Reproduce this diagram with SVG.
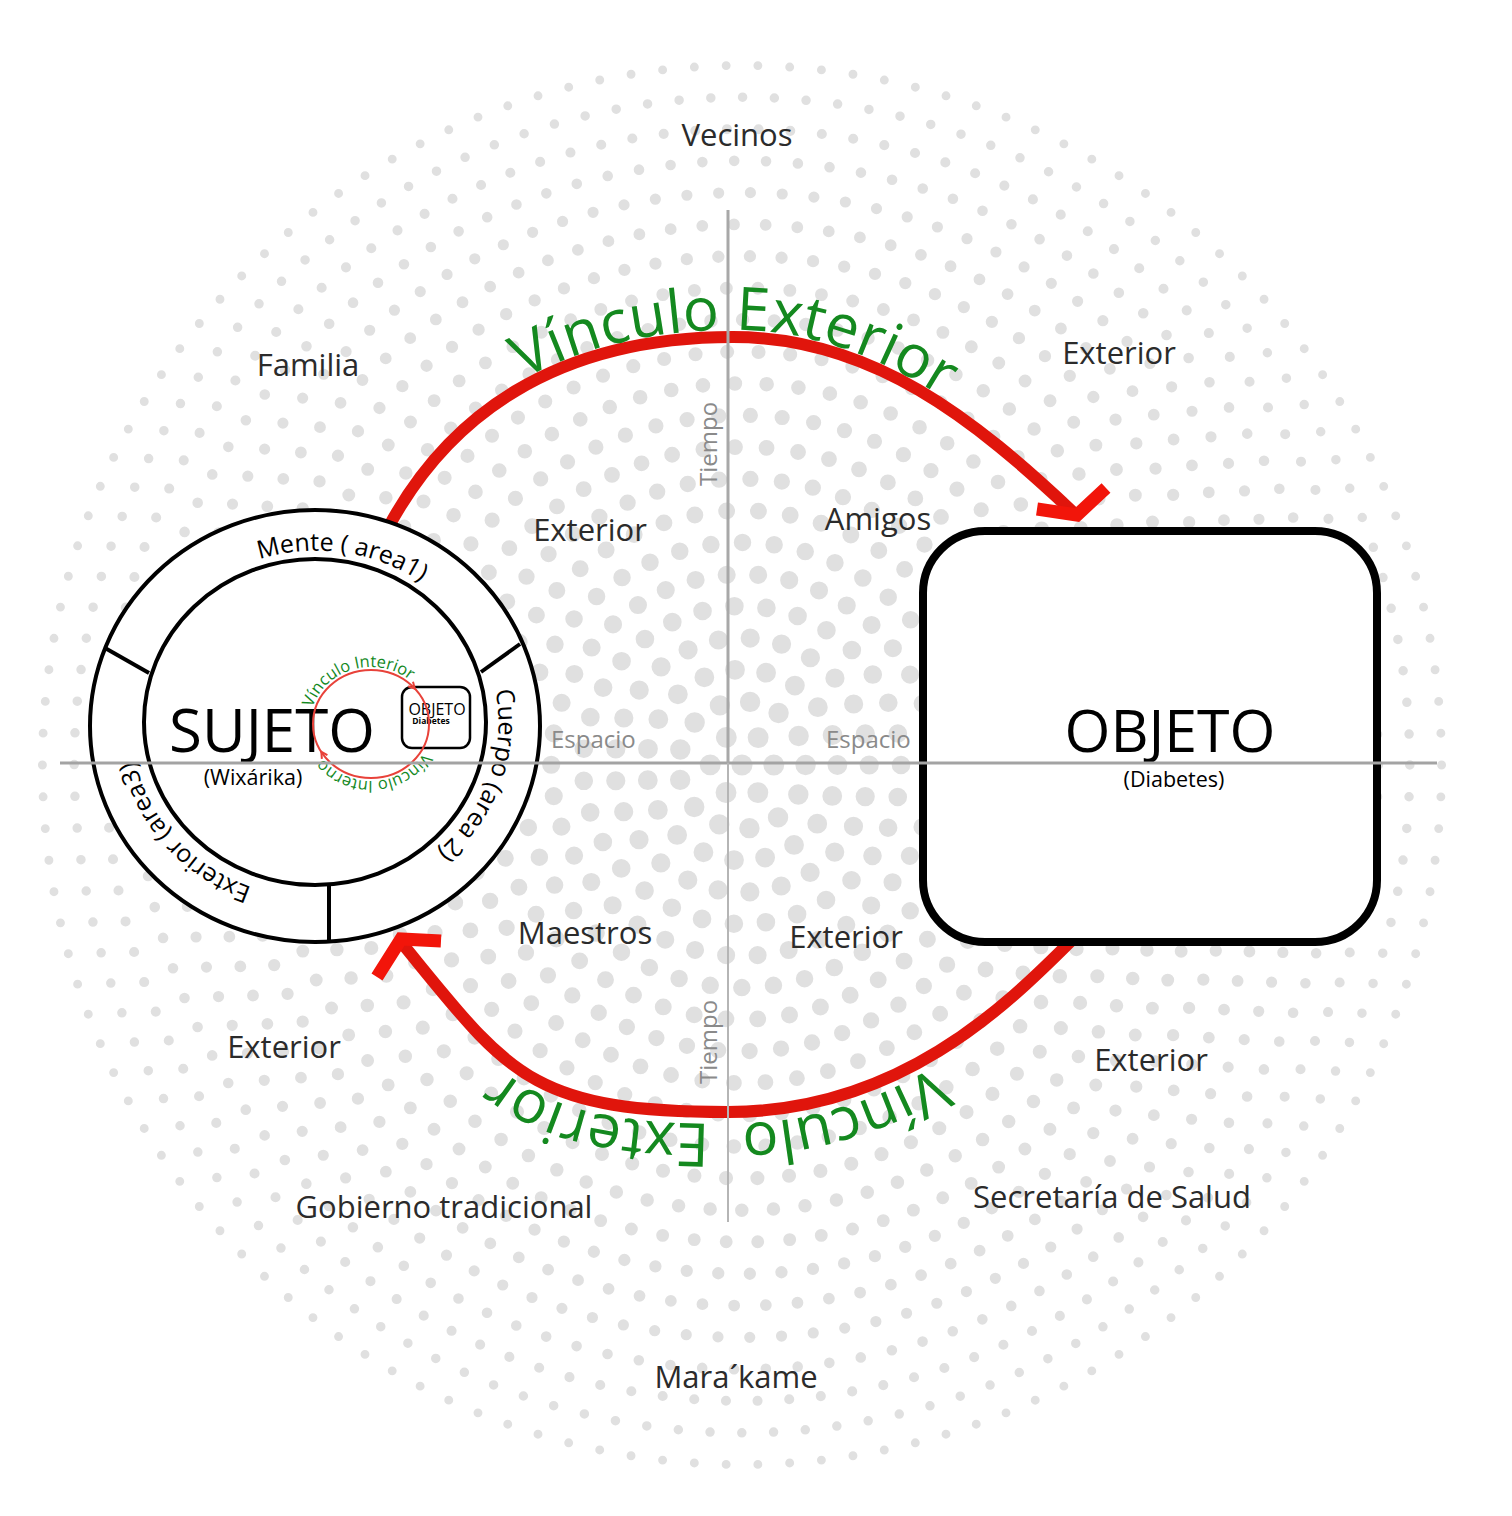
<svg xmlns="http://www.w3.org/2000/svg" width="1512" height="1516" viewBox="0 0 1512 1516">
<defs>
<style>
.lbl{font-family:"Open Sans","Liberation Sans",sans-serif;font-size:31px;fill:#2b2b2b;text-anchor:middle}
.axis{font-family:"Open Sans","Liberation Sans",sans-serif;font-size:24px;fill:#8a8a8a}
.ring{font-family:"Open Sans","Liberation Sans",sans-serif;font-size:25px;fill:#000;text-anchor:middle}
.green{font-family:"Open Sans","Liberation Sans",sans-serif;fill:#14891f;text-anchor:middle}
.big{font-family:"Open Sans","Liberation Sans",sans-serif;fill:#000;text-anchor:middle}
.arc{fill:none;stroke:#e0150c;stroke-width:12}
.head{fill:none;stroke:#f2150a;stroke-width:13;stroke-linejoin:miter;stroke-miterlimit:10}
.small-head{fill:none;stroke:#e8423a;stroke-width:2}
.blk{fill:none;stroke:#000;stroke-width:4}
</style>
<path id="ringPath" d="M186.3,602.4 A182,172 0 1,1 443.7,845.6 A182,172 0 1,1 186.3,602.4"/>
<path id="innerPath" d="M310.9,733.9 A61,57 0 1,1 431.1,714.1 A61,57 0 1,1 310.9,733.9"/>
<path id="upperText" d="M381.8,524.7 C441.9,413.1 553,330 733,330 C873,330 979.8,414.9 1078.8,507.9"/>
<path id="lowerText" d="M1080.5,948.5 C1012,1016.8 898,1124 728,1124 C528,1124 499.7,1081.3 391.8,949.6"/>
</defs>
<rect x="0" y="0" width="1512" height="1516" fill="#fff"/>
<g id="halftone" fill="none" stroke="#e0e0e0" stroke-linecap="round">
<circle cx="742" cy="765" r="10.5" fill="#e0e0e0" stroke="none"/>
<circle cx="742" cy="765" r="31.8" stroke-width="20.9" stroke-dasharray="0 33.30"/>
<circle cx="742" cy="765" r="63.6" stroke-width="20.4" stroke-dasharray="0 30.74"/>
<circle cx="742" cy="765" r="95.4" stroke-width="19.8" stroke-dasharray="0 31.55"/>
<circle cx="742" cy="765" r="127.2" stroke-width="19.2" stroke-dasharray="0 31.97"/>
<circle cx="742" cy="765" r="159" stroke-width="18.6" stroke-dasharray="0 32.23"/>
<circle cx="742" cy="765" r="190.8" stroke-width="18.1" stroke-dasharray="0 31.55"/>
<circle cx="742" cy="765" r="222.6" stroke-width="17.5" stroke-dasharray="0 31.79"/>
<circle cx="742" cy="765" r="254.4" stroke-width="16.9" stroke-dasharray="0 31.97"/>
<circle cx="742" cy="765" r="286.2" stroke-width="16.3" stroke-dasharray="0 31.55"/>
<circle cx="742" cy="765" r="318" stroke-width="15.8" stroke-dasharray="0 31.72"/>
<circle cx="742" cy="765" r="349.8" stroke-width="15.2" stroke-dasharray="0 31.85"/>
<circle cx="742" cy="765" r="381.6" stroke-width="14.6" stroke-dasharray="0 31.97"/>
<circle cx="742" cy="765" r="413.4" stroke-width="14.1" stroke-dasharray="0 31.68"/>
<circle cx="742" cy="765" r="445.2" stroke-width="13.5" stroke-dasharray="0 31.79"/>
<circle cx="742" cy="765" r="477" stroke-width="12.9" stroke-dasharray="0 31.88"/>
<circle cx="742" cy="765" r="508.8" stroke-width="12.3" stroke-dasharray="0 31.65"/>
<circle cx="742" cy="765" r="540.6" stroke-width="11.8" stroke-dasharray="0 31.74"/>
<circle cx="742" cy="765" r="572.4" stroke-width="11.2" stroke-dasharray="0 31.83"/>
<circle cx="742" cy="765" r="604.2" stroke-width="10.6" stroke-dasharray="0 31.90"/>
<circle cx="742" cy="765" r="636" stroke-width="10.1" stroke-dasharray="0 31.72"/>
<circle cx="742" cy="765" r="667.8" stroke-width="9.5" stroke-dasharray="0 31.79"/>
<circle cx="742" cy="765" r="699.6" stroke-width="8.9" stroke-dasharray="0 31.85"/>
</g>
<g id="connectors">
<path class="arc" d="M388,528 C446.8,418 553,337 733,337 C873,337 975,420 1074,513"/>
<polyline class="head" points="1037,509 1077,515 1106,488"/>
<path class="arc" d="M1072,940 C1004.8,1007.2 898,1112 728,1112 C528,1112 508.1,1072.9 401,942"/>
<polyline class="head" points="441,941 401,939 377,977"/>
<text class="green" font-size="60"><textPath href="#upperText" startOffset="426">Vínculo Exterior</textPath></text>
<text class="green" font-size="60" word-spacing="16"><textPath href="#lowerText" startOffset="415.5">Vínculo Exterior</textPath></text>
</g>
<g id="node-sujeto">
<ellipse cx="315" cy="726" rx="225" ry="216" fill="#fff" stroke="#000" stroke-width="4"/>
<ellipse cx="315" cy="722" rx="171" ry="163" class="blk"/>
<line x1="105" y1="648" x2="149" y2="673" class="blk"/>
<line x1="481" y1="672" x2="520" y2="644" class="blk"/>
<line x1="329" y1="886" x2="329" y2="941" class="blk"/>
<text class="ring"><textPath href="#ringPath" startOffset="170">Mente ( area1)</textPath></text>
<text class="ring"><textPath href="#ringPath" startOffset="479">Cuerpo (area 2)</textPath></text>
<text class="ring"><textPath href="#ringPath" startOffset="856">Exterior (area3)</textPath></text>
<text class="big" x="272" y="752" font-size="60">SUJETO</text>
<text class="big" x="253" y="785" font-size="21.5">(Wixárika)</text>
<g id="node-objeto-small">
<rect x="402" y="687" width="68" height="61" rx="10" fill="#fff" stroke="#000" stroke-width="2.5"/>
<text class="big" x="437" y="715" font-size="16">OBJETO</text>
<text class="big" x="431" y="724" font-size="8.5" font-weight="bold">Diabetes</text>
</g>
<g id="vinculo-interior">
<ellipse cx="371" cy="724" rx="58" ry="54" fill="none" stroke="#e8423a" stroke-width="2"/>
<polyline class="small-head" points="413,681.8 414.8,688.6 408.2,686.3"/>
<polyline class="small-head" points="321.9,758.8 321.3,751.8 327.4,755.2"/>
<text class="green" font-size="16.5"><textPath href="#innerPath" startOffset="85.5">Vínculo Interior</textPath></text>
<text class="green" font-size="16.5"><textPath href="#innerPath" startOffset="284">Vínculo Interno</textPath></text>
</g>
</g>
<g id="node-objeto">
<rect x="923" y="531" width="454" height="411" rx="62" fill="#fff" stroke="#000" stroke-width="8"/>
<text class="big" x="1170" y="752" font-size="59">OBJETO</text>
<text class="big" x="1174" y="787" font-size="21.5">(Diabetes)</text>
</g>
<g id="axes">
<line x1="60" y1="763" x2="1437" y2="763" stroke="#a3a3a3" stroke-width="3"/>
<line x1="728" y1="210" x2="728" y2="763" stroke="#a8a8a8" stroke-width="3"/>
<line x1="728" y1="763" x2="728" y2="1222" stroke="#b5b5b5" stroke-width="2"/>
<text class="axis" x="551" y="748">Espacio</text>
<text class="axis" x="826" y="748">Espacio</text>
<text class="axis" transform="translate(717,486) rotate(-90)">Tiempo</text>
<text class="axis" transform="translate(717,1084) rotate(-90)">Tiempo</text>
</g>
<g id="labels">
<text class="lbl" x="737" y="146">Vecinos</text>
<text class="lbl" x="308" y="376">Familia</text>
<text class="lbl" x="1119" y="364">Exterior</text>
<text class="lbl" x="590" y="541">Exterior</text>
<text class="lbl" x="878" y="530">Amigos</text>
<text class="lbl" x="585" y="944">Maestros</text>
<text class="lbl" x="846" y="948">Exterior</text>
<text class="lbl" x="284" y="1058">Exterior</text>
<text class="lbl" x="1151" y="1071">Exterior</text>
<text class="lbl" x="444" y="1218">Gobierno tradicional</text>
<text class="lbl" x="1112" y="1208">Secretaría de Salud</text>
<text class="lbl" x="736" y="1388">Mara´kame</text>
</g>
</svg>
